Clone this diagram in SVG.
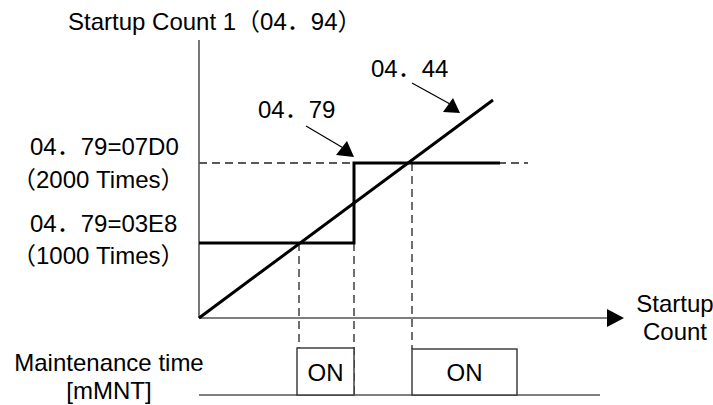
<svg xmlns="http://www.w3.org/2000/svg" width="713" height="405" viewBox="0 0 713 405">
<defs>
<style>
text{font-family:"Liberation Sans","Noto Sans CJK SC",Arial,sans-serif;font-size:24px;fill:#000}
.axis{stroke:#555;stroke-width:1.6;fill:none}
.thick{stroke:#000;stroke-width:3;fill:none}
.dash{stroke:#222;stroke-width:1.3;stroke-dasharray:8 5;fill:none}
.thin{stroke:#000;stroke-width:1.2;fill:none}
.box{stroke:#333;stroke-width:1.4;fill:#fff}
</style>
</defs>
<rect width="713" height="405" fill="#fff"/>
<g id="connectors">
<line class="dash" x1="199" y1="163" x2="528" y2="163"/>
<line class="dash" x1="299" y1="243" x2="299" y2="395"/>
<line class="dash" x1="354" y1="243" x2="354" y2="395"/>
<line class="dash" x1="412" y1="163" x2="412" y2="349"/>
<line class="axis" x1="199" y1="40" x2="199" y2="318"/>
<line class="axis" x1="199" y1="318" x2="610" y2="318"/>
<path d="M607,309L624,318L607,327z" fill="#000"/>
<polyline class="thick" points="199,243 354,243 354,163 500,163"/>
<line class="thick" x1="199" y1="318" x2="493" y2="100"/>
<line class="thin" x1="306" y1="126" x2="345" y2="149"/>
<path d="M354,157L336,155L347,141z" fill="#000"/>
<line class="thin" x1="412" y1="83" x2="450" y2="104"/>
<path d="M460,113L443,112L453,98z" fill="#000"/>
<line class="axis" x1="199" y1="395" x2="600" y2="395"/>
</g>
<g id="on1">
<rect class="box" x="297" y="348" width="57" height="47"/>
<text x="325.5" y="381" text-anchor="middle">ON</text>
</g>
<g id="on2">
<rect class="box" x="412" y="349" width="105" height="46"/>
<text x="464.5" y="381" text-anchor="middle">ON</text>
</g>
<g id="labels">
<text x="68" y="30">Startup Count 1（04．94）</text>
<text x="258" y="118">04．79</text>
<text x="371" y="77">04．44</text>
<text x="30" y="155">04．79=07D0</text>
<text x="12" y="188">（2000 Times）</text>
<text x="30" y="232">04．79=03E8</text>
<text x="12" y="264">（1000 Times）</text>
<text x="675" y="312" text-anchor="middle">Startup</text>
<text x="675" y="340" text-anchor="middle">Count</text>
<text x="109" y="371" text-anchor="middle">Maintenance time</text>
<text x="109" y="399" text-anchor="middle">[mMNT]</text>
</g>
</svg>
